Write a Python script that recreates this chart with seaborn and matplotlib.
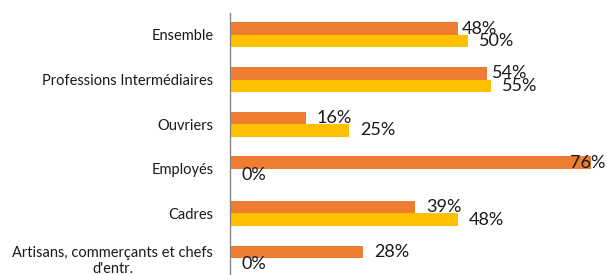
import matplotlib
matplotlib.use("Agg")
import matplotlib.pyplot as plt
import seaborn as sns
import pandas as pd
from matplotlib.transforms import offset_copy

categories = ["Ensemble", "Professions Intermédiaires", "Ouvriers", "Employés",
              "Cadres", "Artisans, commerçants et chefs\nd'entr."]
serie_a = [48, 54, 16, 76, 39, 28]   # orange
serie_b = [50, 55, 25, 0, 48, 0]     # jaune
series_names = ["Série 1", "Série 2"]

df = pd.DataFrame({
    "cat": categories * 2,
    "val": serie_a + serie_b,
    "serie": [series_names[0]] * len(categories) + [series_names[1]] * len(categories),
})

sns.set_theme(style="white")
plt.rcParams["font.family"] = ["Lato", "DejaVu Sans"]

fig = plt.figure(figsize=(6.07, 2.75), dpi=100)
ax = fig.add_axes([230 / 607, -5.5 / 275, 380 / 607, 268 / 275])

sns.barplot(data=df, y="cat", x="val", hue="serie", orient="h",
            palette=["#ED7D31", "#FFC000"], width=0.56, gap=0,
            legend=False, ax=ax, saturation=1, linewidth=0, edgecolor="none")

ax.set_xlim(0, 80)
ax.set_ylim(len(categories) - 0.5, -0.5)
ax.set_xlabel("")
ax.set_ylabel("")
ax.set_xticks([])
for s in ["top", "right", "bottom"]:
    ax.spines[s].set_visible(False)
ax.spines["left"].set_color("#868686")
ax.spines["left"].set_linewidth(1)

ax.set_yticks(range(len(categories)))
ax.set_yticklabels(categories, fontsize=10.5, color="#1a1a1a",
                   multialignment="center", linespacing=1.25)
ax.tick_params(axis="y", which="major", length=0, pad=12)
ax.set_yticks([i - 0.5 for i in range(len(categories) + 1)], minor=True)
ax.tick_params(axis="y", which="minor", length=5, color="#868686", width=1, direction="out")

# value labels
offsets = {  # (series index, category index) -> pixel offset
    (0, 0): 4, (0, 1): 5,
}
for si, cont in enumerate(ax.containers):
    vals = [serie_a, serie_b][si]
    for ci, bar in enumerate(cont):
        v = vals[ci]
        y = bar.get_y() + bar.get_height() / 2
        xend = bar.get_width()
        if si == 0 and ci == 3:
            tr = offset_copy(ax.transData, fig=fig, x=14, y=0, units="dots")
            ax.text(xend, y, f"{v}%", ha="right", va="center", fontsize=13,
                    color="#1a1a1a", transform=tr)
            continue
        dx = offsets.get((si, ci), 11)
        tr = offset_copy(ax.transData, fig=fig, x=dx, y=0, units="dots")
        ax.text(xend, y, f"{v}%", ha="left", va="center", fontsize=13,
                color="#1a1a1a", transform=tr)

fig.savefig("out.png", dpi=100)
